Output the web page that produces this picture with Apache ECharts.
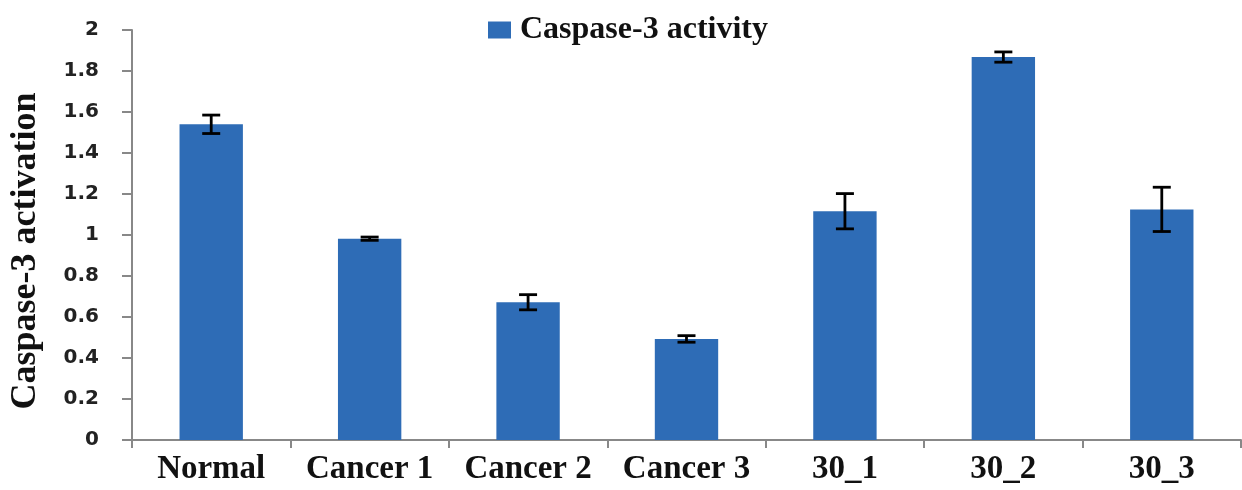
<!DOCTYPE html>
<html>
<head>
<meta charset="utf-8">
<script src="https://cdn.jsdelivr.net/npm/echarts@6/dist/echarts.min.js"></script>
<style>
html,body{margin:0;padding:0;background:#fff;}
#chart{width:1242px;height:490px;}
</style>
</head>
<body>
<div id="chart"></div>
<script>
const categories = ['Normal', 'Cancer 1', 'Cancer 2', 'Cancer 3', '30_1', '30_2', '30_3'];
const activity = [1.54, 0.982, 0.672, 0.493, 1.116, 1.868, 1.125];
const errors = [0.045, 0.008, 0.037, 0.016, 0.086, 0.025, 0.108];
const seriesName = 'Caspase-3 activity';
const yAxisTitle = 'Caspase-3 activation';

const errData = categories.map((c, i) => [i, activity[i] - errors[i], activity[i] + errors[i]]);

const chart = echarts.init(document.getElementById('chart'));
chart.setOption({
  animation: false,
  backgroundColor: '#ffffff',
  grid: { left: 132, right: 1, top: 30, bottom: 50, containLabel: false, outerBoundsMode: 'none' },
  legend: {
    data: [{ name: seriesName, icon: 'rect' }],
    left: 488, top: 14, padding: 0,
    itemWidth: 23, itemHeight: 17, itemGap: 14,
    textStyle: { fontFamily: 'Liberation Serif', fontWeight: 'bold', fontSize: 32, color: '#111', padding: [0, 0, 0, 4] }
  },
  xAxis: {
    type: 'category',
    data: categories,
    axisLine: { lineStyle: { color: '#888', width: 2 } },
    axisTick: { show: true, alignWithLabel: false, length: 8, lineStyle: { color: '#888', width: 2 } },
    axisLabel: { interval: 0, hideOverlap: false, fontFamily: 'Liberation Serif', fontWeight: 'bold', fontSize: 33, color: '#111', margin: 13 }
  },
  yAxis: {
    type: 'value', min: 0, max: 2, interval: 0.2,
    name: yAxisTitle, nameLocation: 'middle', nameGap: 88, nameRotate: 90,
    nameTextStyle: { fontFamily: 'Liberation Serif', fontWeight: 'bold', fontSize: 36, color: '#111', padding: [0, 32, 0, 0] },
    splitLine: { show: false },
    axisLine: { show: true, lineStyle: { color: '#888', width: 2 } },
    axisTick: { show: true, length: 10, lineStyle: { color: '#888', width: 2 } },
    axisLabel: {
      fontFamily: 'DejaVu Sans', fontWeight: 'bold', fontSize: 20, color: '#222', margin: 33,
      formatter: v => String(Math.round(v * 10) / 10)
    }
  },
  series: [
    {
      name: seriesName, type: 'bar', data: activity, barWidth: '40%',
      itemStyle: { color: '#2E6CB6' }
    },
    {
      type: 'custom', name: 'err', data: errData, z: 10,
      renderItem: function (params, api) {
        const x = api.value(0);
        const lo = api.coord([x, api.value(1)]);
        const hi = api.coord([x, api.value(2)]);
        const hw = 9;
        const st = { stroke: '#000', lineWidth: 2.8 };
        return {
          type: 'group',
          children: [
            { type: 'line', shape: { x1: hi[0], y1: hi[1], x2: lo[0], y2: lo[1] }, style: st },
            { type: 'line', shape: { x1: hi[0] - hw, y1: hi[1], x2: hi[0] + hw, y2: hi[1] }, style: st },
            { type: 'line', shape: { x1: lo[0] - hw, y1: lo[1], x2: lo[0] + hw, y2: lo[1] }, style: st }
          ]
        };
      }
    }
  ]
});
</script>
</body>
</html>
